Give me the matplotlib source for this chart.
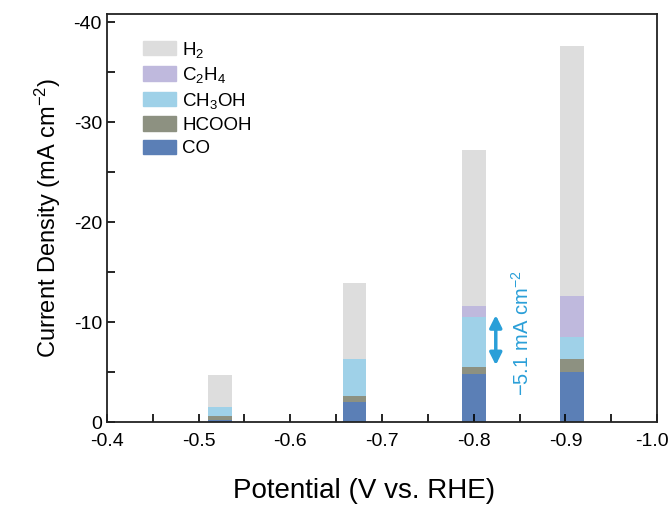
import numpy as np
import matplotlib
matplotlib.use("Agg")
from matplotlib import pyplot as plt
from matplotlib.patches import Patch
import matplotlib.transforms as mtransforms

plt.rcParams['font.family'] = ['Liberation Sans', 'DejaVu Sans']
plt.rcParams['mathtext.fontset'] = 'custom'
plt.rcParams['mathtext.rm'] = 'Liberation Sans'
plt.rcParams['mathtext.it'] = 'Liberation Sans:italic'
plt.rcParams['axes.unicode_minus'] = False

# potentials (V vs RHE) and partial current densities (mA cm-2, magnitude)
potential = [-0.523, -0.67, -0.80, -0.907]
co = [0.25, 2.0, 4.8, 5.0]
hcooh = [0.35, 0.6, 0.67, 1.3]
ch3oh = [0.95, 3.7, 5.06, 2.2]
c2h4 = [0.0, 0.0, 1.07, 4.1]
h2 = [3.15, 7.6, 15.6, 25.0]

names = ['CO', 'HCOOH', 'CH$_3$OH', 'C$_2$H$_4$', 'H$_2$']
colors = ['#5b7fb6', '#8d9181', '#9fd1e8', '#bfb9dd', '#dddddd']
series = [co, hcooh, ch3oh, c2h4, h2]

fig = plt.figure(figsize=(6.72, 5.05), dpi=100)
ax = fig.add_axes([0.159, 0.164, 0.819, 0.808])

bottom = np.zeros(len(potential))
for vals, col in zip(series, colors):
    v = -np.array(vals)
    ax.bar(potential, v, width=0.026, bottom=bottom, color=col, linewidth=0)
    bottom += v

ax.set_xlim(-0.4, -1.0)
ax.set_ylim(0, -40.8)
ax.set_xticks([-0.4, -0.5, -0.6, -0.7, -0.8, -0.9, -1.0])
ax.set_xticklabels(['-0.4', '-0.5', '-0.6', '-0.7', '-0.8', '-0.9', '-1.0'])
ax.set_xticks(np.arange(-0.45, -1.0, -0.1), minor=True)
ax.set_yticks([0, -10, -20, -30, -40])
ax.set_yticklabels(['0', '-10', '-20', '-30', '-40'])
ax.set_yticks([-5, -15, -25, -35], minor=True)
ax.tick_params(which='both', direction='in', length=6, width=1.2, labelsize=14)
ax.tick_params(axis='x', pad=8)
for s in ax.spines.values():
    s.set_linewidth(1.3)
    s.set_color('#222222')

# keep the last x label inside the picture
last = ax.get_xticklabels()[-1]
last.set_transform(last.get_transform() +
                   mtransforms.ScaledTranslation(-5 / 100, 0, fig.dpi_scale_trans))

ax.set_xlabel('Potential (V vs. RHE)', fontsize=20)
ax.xaxis.set_label_coords(0.468, -0.138)
ax.set_ylabel('Current Density (mA cm$^{-2}$)', fontsize=17, labelpad=8)

handles = [Patch(color=c, label=n) for c, n in zip(colors, names)][::-1]
ax.legend(handles=handles, loc='upper left', frameon=False, fontsize=13.5,
          handlelength=1.75, handleheight=0.8, handletextpad=0.35,
          labelspacing=0.3, borderaxespad=0.3, bbox_to_anchor=(0.042, 0.97))

blue = '#2a9fd8'
ax.annotate('', xy=(-0.824, -10.7), xytext=(-0.824, -5.7),
            arrowprops=dict(arrowstyle='<|-|>', color=blue, lw=2.5,
                            mutation_scale=18, shrinkA=0, shrinkB=0))
ax.text(-0.852, -8.9, '\u22125.1 mA cm$^{-2}$', color=blue, fontsize=14.5,
        rotation=90, ha='center', va='center')

fig.savefig('out.png', dpi=100)
